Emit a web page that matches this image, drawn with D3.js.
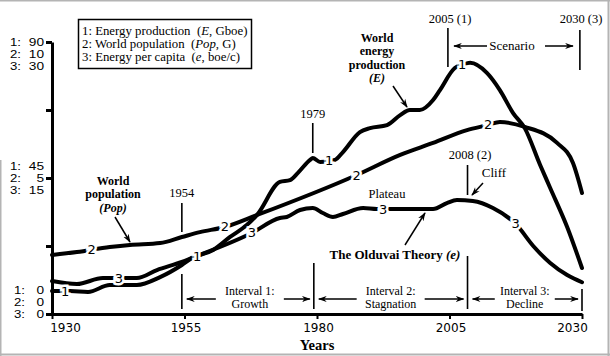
<!DOCTYPE html>
<html><head><meta charset="utf-8">
<script src="https://cdn.jsdelivr.net/npm/d3@7"></script>
<style>
body{margin:0;background:#fff}
svg{display:block}
.serif{font-family:"Liberation Serif","Times New Roman",serif}
.sans{font-family:"DejaVu Sans",sans-serif}
.lsans{font-family:"Liberation Sans",Arial,sans-serif}
</style>
</head><body>
<svg id="c" width="610" height="356"></svg>
<script>
// ---- data ----
const years1  = [1930,1933.4,1936.8,1940.9,1946,1950.4,1954.5,1956.4,1960.4,1963.6,1966.8,1968.7,1973,1974.9,1976.4,1978.7,1979.2,1980.6,1983.4,1984.9,1988.1,1990,1993.2,1995.7,1997.5,1999.4,2001.9,2003.2,2006,2007.4,2008.9,2012.1,2014.5,2017,2019.2,2022.1,2024,2027.2,2030];
const energy  = [7.6,7.6,7.3,9.6,9.6,12.2,16.2,18.5,21.2,25.5,29.5,32.8,43.7,44.3,46.7,51.0,51.6,50.3,51.0,53.6,60.2,61.5,62.5,65.8,67.5,67.5,70.8,74.1,81.4,82.4,83.1,79.7,74.1,66.5,61.5,49.3,41.7,28.8,15.2];

const years2     = [1930,1934.7,1940.9,1944.7,1950.4,1954.5,1957.9,1962.6,1968.7,1987.5,1995.7,2001.9,2008.3,2012.3,2014.5,2019.2,2025.3,2028.3,2030];
const population = [2.17,2.28,2.46,2.54,2.61,2.83,3.01,3.2,3.64,5.11,5.85,6.29,6.76,6.95,7.06,6.88,6.29,5.55,4.45];

const years3    = [1930,1934.7,1939.6,1946,1949.8,1954.5,1956.4,1967.7,1973,1974.3,1976.8,1979.2,1981.1,1983,1984.9,1988.7,1991.3,1995.7,2001.9,2004.5,2006.4,2009.4,2013.2,2017.5,2020.8,2024,2027.2,2030];
const perCapita = [3.64,3.31,3.97,3.97,4.85,5.74,6.18,8.94,10.59,10.7,11.47,11.69,11.14,10.7,11.03,11.69,11.58,11.58,11.58,12.24,12.57,12.46,11.69,9.93,7.5,5.63,4.3,3.5];

const xTicks = [1930,1955,1980,2005,2030];
const yMax = [90,10,30];          // series 1,2,3 axis maxima
const yTickFractions = [0,0.25,0.5,0.75,1];
const yLabelFractions = [1,0.5,0];
const labelYears = [
  [1932.5,1957.4,1982.3,2007.4],
  [1937.5,1962.6,1987.5,2012.3],
  [1942.6,1967.7,1992.5,2017.5]
];
const legendLines = [
  ["1: Energy production  (","E",", Gboe)"],
  ["2: World population  (","Pop",", G)"],
  ["3: Energy per capita  (","e",", boe/c)"]
];
const intervalYears = [1954.5,1979.4,2008.4,2030];
const intervalNames = [["Interval 1:","Growth"],["Interval 2:","Stagnation"],["Interval 3:","Decline"]];

// ---- drawing ----
const svg = d3.select("#c");
const x = d3.scaleLinear().domain([1930,2030]).range([52,582]);
const yScales = yMax.map(m => d3.scaleLinear().domain([0,m]).range([314,42]));
const yE = yScales[0];

// frame
const frame = svg.append("g").attr("stroke","#b4b4b4").attr("stroke-width",2);
frame.append("line").attr("x1",0).attr("x2",610).attr("y1",0.5).attr("y2",0.5);
frame.append("line").attr("x1",608.5).attr("x2",608.5).attr("y1",0).attr("y2",356);
frame.append("line").attr("x1",0).attr("x2",610).attr("y1",354.5).attr("y2",354.5);
frame.append("line").attr("x1",0.5).attr("x2",0.5).attr("y1",160).attr("y2",356);

// markers
const defs = svg.append("defs");
defs.append("marker").attr("id","arr").attr("viewBox","0 -4 10 8").attr("refX",9).attr("refY",0)
  .attr("markerWidth",9).attr("markerHeight",7).attr("markerUnits","userSpaceOnUse").attr("orient","auto")
  .append("path").attr("d","M0,-3.5L10,0L0,3.5L3,0Z").attr("fill","#000");

// axes
const xAxis = d3.axisBottom(x).tickValues(xTicks).tickSize(5).tickSizeOuter(0).tickFormat(d3.format("d"));
const gx = svg.append("g").attr("transform","translate(0,314)").call(xAxis);
gx.select(".domain").attr("stroke-width",3);
gx.selectAll(".tick line").attr("stroke-width",2);
gx.selectAll(".tick text").attr("class","sans").attr("font-size",12).attr("fill","#000").attr("y",9)
  .attr("dx",d => d===1930 ? 13 : d===2030 ? -10 : 1);

const yAxis = d3.axisLeft(yE).tickValues(yTickFractions.map(f=>f*yMax[0])).tickSize(6).tickSizeOuter(0).tickFormat("");
const gy = svg.append("g").attr("transform","translate(52,0)").call(yAxis);
gy.select(".domain").attr("stroke-width",3);
gy.selectAll(".tick line").attr("stroke-width",3);

// y labels: stacked rows per labelled tick
const rowGap = 12;
const yl = svg.append("g").attr("class","lsans").attr("font-size",10.7).attr("fill","#000");
yLabelFractions.forEach((f,k) => {
  const ty = yE(f*yMax[0]);
  yMax.forEach((m,i) => {
    const cy = ty + (i-k)*rowGap + 3.8;
    const lab = d3.format("d")(f*m);
    yl.append("text").attr("x", f===0 ? 14 : 10).attr("y",cy)
      .attr("textLength",11).attr("lengthAdjust","spacingAndGlyphs").text((i+1)+":");
    yl.append("text").attr("x",44).attr("y",cy).attr("text-anchor","end")
      .attr("textLength",lab.length*7.6).attr("lengthAdjust","spacingAndGlyphs").text(lab);
  });
});

// x title
svg.append("text").attr("class","serif").attr("font-weight","bold").attr("font-size",14.5)
  .attr("x",317).attr("y",350).attr("text-anchor","middle").text("Years");

// series
const seriesData = [
  years1.map((t,i)=>[t,energy[i]]),
  years2.map((t,i)=>[t,population[i]]),
  years3.map((t,i)=>[t,perCapita[i]])
];
seriesData.forEach((data,s) => {
  const line = d3.line().x(d=>x(d[0])).y(d=>yScales[s](d[1])).curve(d3.curveMonotoneX);
  svg.append("path").attr("d",line(data)).attr("fill","none").attr("stroke","#000")
    .attr("stroke-width",4).attr("stroke-linejoin","round").attr("stroke-linecap","round");
});
// number labels on curves
seriesData.forEach((data,s) => {
  const ys = data.map(d=>d[0]), vs = data.map(d=>d[1]);
  const interp = d3.scaleLinear().domain(ys).range(vs);
  labelYears[s].forEach(t => {
    svg.append("text").attr("class","sans").attr("font-size",13).attr("text-anchor","middle")
      .attr("x",x(t)).attr("y",yScales[s](interp(t))+4.5)
      .attr("stroke","#fff").attr("stroke-width",5).attr("paint-order","stroke").attr("fill","#000")
      .text(s+1);
  });
});

// legend
svg.append("rect").attr("x",78.5).attr("y",19.5).attr("width",173).attr("height",49)
  .attr("fill","#fff").attr("stroke","#000").attr("stroke-width",1.5);
legendLines.forEach((l,i) => {
  const t = svg.append("text").attr("class","serif").attr("font-size",12.8).attr("x",82).attr("y",35+i*13)
    .style("white-space","pre");
  t.append("tspan").text(l[0]);
  t.append("tspan").attr("font-style","italic").text(l[1]);
  t.append("tspan").text(l[2]);
});

// helper
const ann = svg.append("g");
function txt(xp,yp,str,opt={}) {
  const t = ann.append("text").attr("class","serif").attr("font-size",opt.size||12.5)
    .attr("x",xp).attr("y",yp).attr("text-anchor","middle");
  if (opt.bold) t.attr("font-weight","bold");
  if (opt.italic) t.attr("font-style","italic");
  t.text(str); return t;
}
function vline(xp,y1,y2){ ann.append("line").attr("x1",xp).attr("x2",xp).attr("y1",y1).attr("y2",y2).attr("stroke","#000").attr("stroke-width",1.6); }
function arrow(x1,y1,x2,y2){ ann.append("line").attr("x1",x1).attr("y1",y1).attr("x2",x2).attr("y2",y2)
  .attr("stroke","#000").attr("stroke-width",1.5).attr("marker-end","url(#arr)"); }

// year markers
txt(x(1954.5),197,"1954"); vline(x(1954.5),203,232);
txt(x(1979.2),118,"1979"); vline(x(1979.2),123,153);
txt(450,23,"2005 (1)"); vline(x(2004.7),28,67);
txt(581,23,"2030 (3)"); vline(x(2029.6),30,70);
txt(512,50,"Scenario",{size:13}); arrow(487,46,454,46); arrow(545,46,573,46);
txt(470,159,"2008 (2)"); vline(x(2008.4),165,195);
txt(494,177,"Cliff",{size:13}); arrow(483,183,472,195);
txt(387,198,"Plateau");

// named annotations
["World","energy","production"].forEach((s,i)=>txt(377,42+i*13.4,s,{bold:true,size:12}));
txt(377,82.2,"(E)",{bold:true,italic:true,size:12});
arrow(393,86,407,107);
["World","population"].forEach((s,i)=>txt(113,185+i*13.4,s,{bold:true,size:12}));
txt(113,211.8,"(Pop)",{bold:true,italic:true,size:12});
arrow(115,217,130,242);
const ol = ann.append("text").attr("class","serif").attr("font-size",13).attr("font-weight","bold")
  .attr("x",395).attr("y",259).attr("text-anchor","middle");
ol.append("tspan").text("The Olduvai Theory ");
ol.append("tspan").attr("font-style","italic").text("(e)");
arrow(405,245,425,213);

// intervals
vline(x(intervalYears[0]),274,309);
vline(x(intervalYears[1]),263,309);
vline(x(intervalYears[2]),256,309);
vline(x(intervalYears[3]),289,311);
intervalNames.forEach((nm,i) => {
  const a = x(intervalYears[i]), b = x(intervalYears[i+1]);
  const c = (a+b)/2 + (i===0?2:0);
  txt(c,294.5,nm[0],{size:12});
  txt(c,307.8,nm[1],{size:12});
  const half = i===2 ? 30 : 34;
  arrow(c-half,299,a+5,299);
  arrow(c+half,299,b-4,299);
});
</script>
</body></html>
